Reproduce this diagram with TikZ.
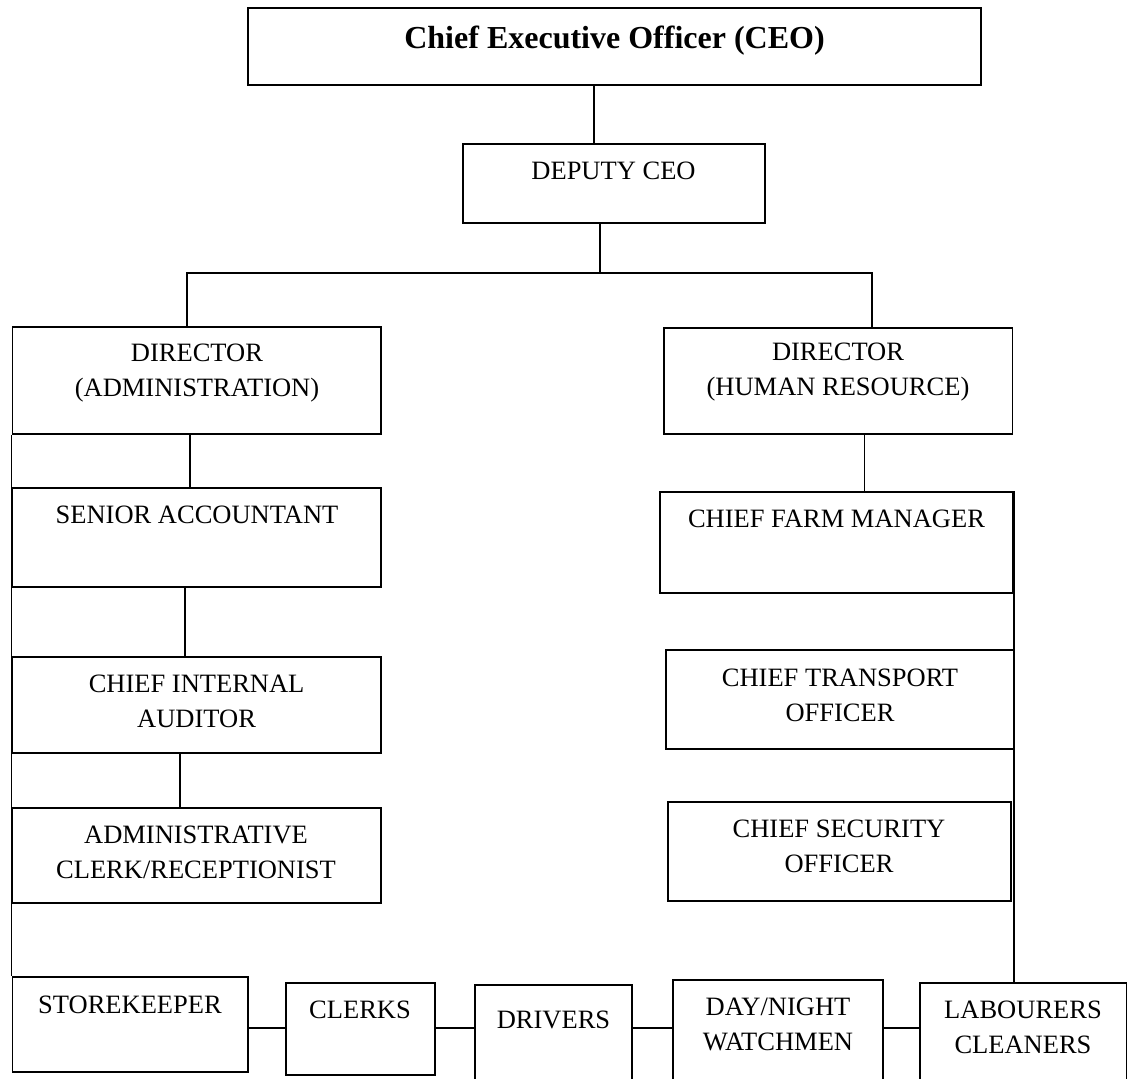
\documentclass[tikz,border=0pt]{standalone}
\usepackage{fontspec}
\setmainfont{Liberation Serif}
\tikzset{
  postbox/.style 2 args = {draw, line width=0.9pt, inner sep=0pt,
                           minimum width={#1*0.5pt}, minimum height={#2*0.5pt}},
  link/.style    = {line width=0.65pt},
  postlbl/.style = {font=\fontsize{13.25}{17.5}\selectfont, align=center,
                    anchor=base, inner sep=0pt}
}
\begin{document}
\begin{tikzpicture}[x=0.5pt,y=-0.5pt]
  % the page, in pixels of the chart, y running downwards
  \clip (0,0) rectangle (1133,1079);
  \fill[white] (0,0) rectangle (1133,1079);
  % --- top of the chart -------------------------------------------------
  % (a label's base is the baseline of its last line)
  \node[postbox={733}{77}] (ceo) at (614.5,46.5) {};
  \node[postlbl,font=\fontsize{16}{19}\selectfont\bfseries] (t-ceo)
        at (614.5,49) {Chief Executive Officer (CEO)};
  \node[postbox={302}{79}] (deputy) at (614,183.5) {};
  \node[postlbl] (t-deputy) at (613.5,180) {DEPUTY CEO};
  % --- left column: administration ------------------------------------
  \node[postbox={368.5}{107}] (diradmin) at (196.75,380.5) {};
  \node[postlbl] (t-diradmin) at (197,397) {DIRECTOR\\(ADMINISTRATION)};
  \node[postbox={368.5}{99}] (senacc) at (196.75,537.5) {};
  \node[postlbl] (t-senacc) at (197,523) {SENIOR ACCOUNTANT};
  \node[postbox={368.5}{96}] (auditor) at (196.75,705) {};
  \node[postlbl] (t-auditor) at (196.6,727) {CHIEF INTERNAL\\AUDITOR};
  \node[postbox={368.5}{95}] (clerkrec) at (196.75,855.5) {};
  \node[postlbl] (t-clerkrec) at (196,878) {ADMINISTRATIVE\\CLERK/RECEPTIONIST};
  % --- right column: human resource -----------------------------------
  \node[postbox={348.5}{106}] (dirhr) at (838.25,381) {};
  \node[postlbl] (t-dirhr) at (838,396) {DIRECTOR\\(HUMAN RESOURCE)};
  \node[postbox={353}{101}] (farm) at (836.5,542.5) {};
  \node[postlbl] (t-farm) at (836.5,527) {CHIEF FARM MANAGER};
  \node[postbox={348}{99}] (transport) at (840,699.5) {};
  \node[postlbl] (t-transport) at (840,721) {CHIEF TRANSPORT\\OFFICER};
  \node[postbox={343}{99}] (security) at (839.5,851.5) {};
  \node[postlbl] (t-security) at (839,872) {CHIEF SECURITY\\OFFICER};
  % --- bottom row, cut off by the page edge ----------------------------
  \node[postbox={235.5}{95}] (store) at (130.25,1024.5) {};
  \node[postlbl] (t-store) at (130,1013) {STOREKEEPER};
  \node[postbox={149}{92}] (clerks) at (360.5,1029) {};
  \node[postlbl] (t-clerks) at (360,1018) {CLERKS};
  \node[postbox={157}{105}] (drivers) at (553.5,1037.5) {};
  \node[postlbl] (t-drivers) at (553.5,1028) {DRIVERS};
  \node[postbox={210}{110}] (watch) at (778,1035) {};
  \node[postlbl] (t-watch) at (778,1050) {DAY/NIGHT\\WATCHMEN};
  \node[postbox={206.5}{107}] (labour) at (1023.25,1036.5) {};
  \node[postlbl] (t-labour) at (1023,1053) {LABOURERS\\CLEANERS};
  % --- connectors -------------------------------------------------------
  \draw[link] (594,0 |- ceo.south) -- (594,0 |- deputy.north);
  \draw[link] (600,0 |- deputy.south) -- (600,273);
  \draw[link] (187,0 |- diradmin.north) |- (872,273) -- (872,0 |- dirhr.north);
  \draw[link] (190,0 |- diradmin.south) -- (190,0 |- senacc.north);
  \draw[link] (185,0 |- senacc.south) -- (185,0 |- auditor.north);
  \draw[link] (180,0 |- auditor.south) -- (180,0 |- clerkrec.north);
  \draw[link] (864.5,0 |- dirhr.south) -- (864.5,0 |- farm.north);
  % the two spines down to the bottom row
  \draw[link] (diradmin.south west) -- (store.north west);
  \draw[link] (farm.north east) -- (farm.north east |- labour.north);
  \foreach \a/\b in {store/clerks,clerks/drivers,drivers/watch,watch/labour}
    \draw[link] (\a.east |- 0,1028) -- (\b.west |- 0,1028);
\end{tikzpicture}
\end{document}
